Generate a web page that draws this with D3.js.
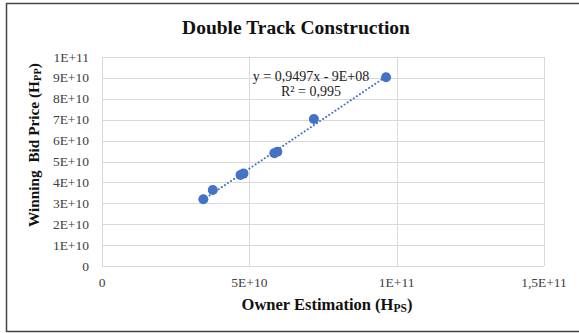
<!DOCTYPE html>
<html>
<head>
<meta charset="utf-8">
<script src="https://cdn.jsdelivr.net/npm/d3@7"></script>
<style>
  body { margin: 0; background: #fff; }
  text { font-family: "Liberation Serif", "Times New Roman", serif; }
</style>
</head>
<body>
<svg id="chart" width="579" height="333"></svg>
<script>
const ownerEstimation = [3.44e10, 3.76e10, 4.70e10, 4.80e10, 5.85e10, 5.95e10, 7.19e10, 9.64e10];
const winningBid = [3.19e10, 3.64e10, 4.35e10, 4.42e10, 5.40e10, 5.47e10, 7.03e10, 9.03e10];
const xTicks = [0, 5e10, 1e11, 1.5e11];
const xTickLabels = ["0", "5E+10", "1E+11", "1,5E+11"];
const yTicks = [0, 1e10, 2e10, 3e10, 4e10, 5e10, 6e10, 7e10, 8e10, 9e10, 1e11];
const yTickLabels = ["0", "1E+10", "2E+10", "3E+10", "4E+10", "5E+10", "6E+10", "7E+10", "8E+10", "9E+10", "1E+11"];
const slope = 0.9497, intercept = -9e8;

const svg = d3.select("#chart");

// outer frame
svg.append("path")
  .attr("d", "M 600 3.5 H 6.5 V 331.5 H 600")
  .attr("fill", "none")
  .attr("stroke", "#444")
  .attr("stroke-width", 1.5);

const x = d3.scaleLinear().domain([0, 1.5e11]).range([102, 544]);
const y = d3.scaleLinear().domain([0, 1e11]).range([266, 57]);

const grid = svg.append("g").attr("stroke", "#d9d9d9").attr("stroke-width", 1);
grid.selectAll(".h").data(yTicks).enter().append("line")
  .attr("x1", x(0)).attr("x2", x(1.5e11))
  .attr("y1", d => Math.round(y(d)) + 0.5).attr("y2", d => Math.round(y(d)) + 0.5);
grid.selectAll(".v").data(xTicks).enter().append("line")
  .attr("y1", y(0)).attr("y2", y(1e11))
  .attr("x1", d => Math.round(x(d)) + 0.5).attr("x2", d => Math.round(x(d)) + 0.5);

// tick labels
svg.append("g").selectAll("text").data(yTicks).enter().append("text")
  .attr("x", 89).attr("y", d => y(d) + 4.5)
  .attr("text-anchor", "end")
  .attr("font-size", 13.5).attr("fill", "#404040")
  .text((d, i) => yTickLabels[i]);

svg.append("g").selectAll("text").data(xTicks).enter().append("text")
  .attr("x", d => x(d)).attr("y", 287)
  .attr("text-anchor", "middle")
  .attr("font-size", 13.5).attr("fill", "#404040")
  .text((d, i) => xTickLabels[i]);

// trendline
const xMin = d3.min(ownerEstimation), xMax = d3.max(ownerEstimation);
svg.append("line")
  .attr("x1", x(xMin)).attr("y1", y(slope * xMin + intercept))
  .attr("x2", x(xMax)).attr("y2", y(slope * xMax + intercept))
  .attr("stroke", "#4472c4")
  .attr("stroke-width", 2)
  .attr("stroke-linecap", "round")
  .attr("stroke-dasharray", "0.1 3.6");

// points
svg.append("g").selectAll("circle").data(ownerEstimation).enter().append("circle")
  .attr("cx", d => x(d))
  .attr("cy", (d, i) => y(winningBid[i]))
  .attr("r", 5)
  .attr("fill", "#4472c4");

// equation
svg.append("text")
  .attr("x", 311).attr("y", 81)
  .attr("text-anchor", "middle")
  .attr("font-size", 14).attr("fill", "#222")
  .text("y = 0,9497x - 9E+08");
svg.append("text")
  .attr("x", 311).attr("y", 96)
  .attr("text-anchor", "middle")
  .attr("font-size", 14).attr("fill", "#222")
  .text("R² = 0,995");

// title
svg.append("text")
  .attr("x", 296).attr("y", 34)
  .attr("text-anchor", "middle")
  .attr("font-size", 19.5).attr("font-weight", "bold").attr("fill", "#111")
  .text("Double Track Construction");

// x axis label
const xl = svg.append("text")
  .attr("x", 327).attr("y", 310)
  .attr("text-anchor", "middle")
  .attr("font-size", 16.5).attr("font-weight", "bold").attr("fill", "#111");
xl.append("tspan").text("Owner Estimation (H");
xl.append("tspan").attr("font-size", 11.5).attr("dy", 2).text("PS");
xl.append("tspan").attr("dy", -2).text(")");

// y axis label
const yl = svg.append("text")
  .attr("transform", "translate(39,145) rotate(-90)")
  .attr("text-anchor", "middle")
  .attr("font-size", 15.3).attr("font-weight", "bold").attr("fill", "#111")
  .attr("xml:space", "preserve");
yl.append("tspan").text("Winning  Bid Price (H");
yl.append("tspan").attr("font-size", 10.5).attr("dy", 2).text("PP");
yl.append("tspan").attr("dy", -2).text(")");
</script>
</body>
</html>
